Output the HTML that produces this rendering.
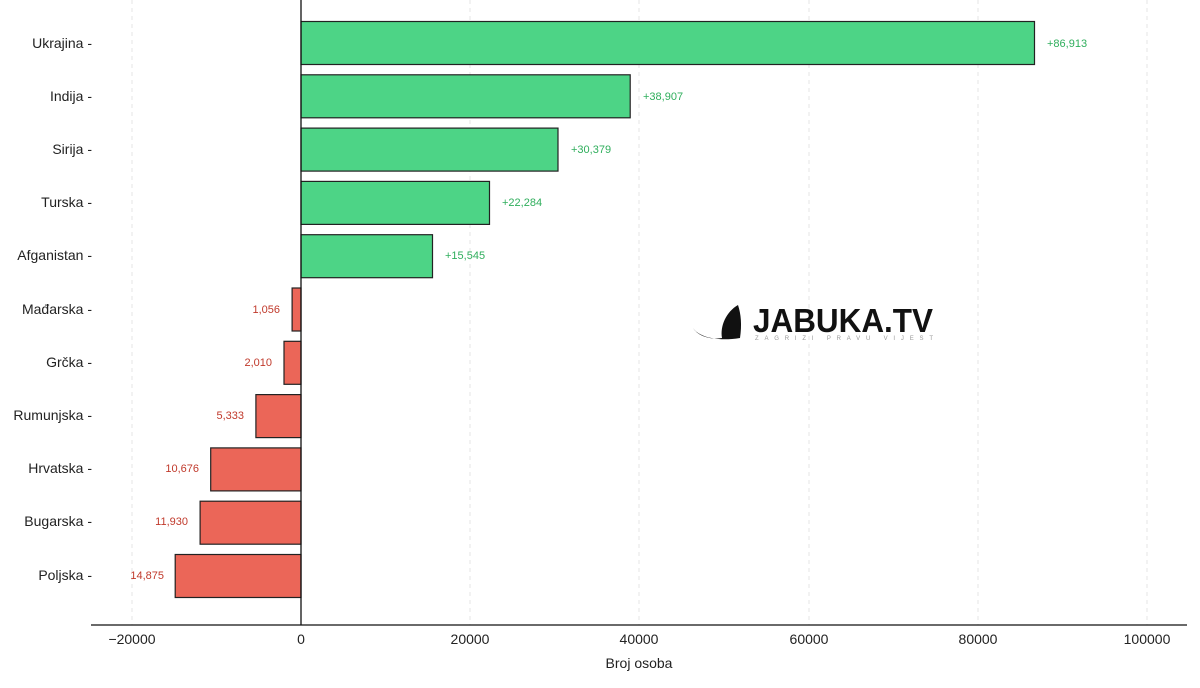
<!DOCTYPE html>
<html><head><meta charset="utf-8"><style>body{margin:0;background:#fff}svg{display:block;font-family:"Liberation Sans",sans-serif}</style></head><body>
<svg width="1200" height="688" viewBox="0 0 1200 688">
<g stroke="#e6e6e6" stroke-dasharray="4,4" stroke-width="1">
<line x1="132" y1="0" x2="132" y2="625"/><line x1="470" y1="0" x2="470" y2="625"/><line x1="639" y1="0" x2="639" y2="625"/><line x1="809" y1="0" x2="809" y2="625"/><line x1="978" y1="0" x2="978" y2="625"/><line x1="1147" y1="0" x2="1147" y2="625"/>
</g>
<g stroke="#222" stroke-width="1.2" fill="#4dd486">
<rect x="301" y="21.5" width="733.5" height="43"/>
<rect x="301" y="74.8" width="329.2" height="43"/>
<rect x="301" y="128.1" width="257" height="43"/>
<rect x="301" y="181.4" width="188.5" height="43"/>
<rect x="301" y="234.7" width="131.5" height="43"/>
</g>
<g stroke="#222" stroke-width="1.2" fill="#eb6658">
<rect x="292.1" y="288" width="8.9" height="43"/>
<rect x="284" y="341.3" width="17" height="43"/>
<rect x="255.9" y="394.6" width="45.1" height="43"/>
<rect x="210.7" y="447.9" width="90.3" height="43"/>
<rect x="200.1" y="501.2" width="100.9" height="43"/>
<rect x="175.2" y="554.5" width="125.8" height="43"/>
</g>
<line x1="301" y1="0" x2="301" y2="625" stroke="#111" stroke-width="1.3"/>
<line x1="91" y1="625" x2="1187" y2="625" stroke="#111" stroke-width="1.2"/>
<g font-size="11" fill="#2fae5c">
<text x="1047" y="47">+86,913</text><text x="643" y="100">+38,907</text><text x="571" y="153">+30,379</text><text x="502" y="206">+22,284</text><text x="445" y="259">+15,545</text>
</g>
<g font-size="11" fill="#c0392b" text-anchor="end">
<text x="280" y="313">1,056</text><text x="272" y="366">2,010</text><text x="244" y="419">5,333</text><text x="199" y="472">10,676</text><text x="188" y="525">11,930</text><text x="164" y="579">14,875</text>
</g>
<g font-size="14" fill="#222" text-anchor="end">
<text x="92" y="48">Ukrajina -</text><text x="92" y="101">Indija -</text><text x="92" y="154">Sirija -</text><text x="92" y="207">Turska -</text><text x="92" y="260">Afganistan -</text><text x="92" y="314">Mađarska -</text><text x="92" y="367">Grčka -</text><text x="92" y="420">Rumunjska -</text><text x="92" y="473">Hrvatska -</text><text x="92" y="526">Bugarska -</text><text x="92" y="580">Poljska -</text>
</g>
<g font-size="14" fill="#222" text-anchor="middle">
<text x="132" y="644">−20000</text><text x="301" y="644">0</text><text x="470" y="644">20000</text><text x="639" y="644">40000</text><text x="809" y="644">60000</text><text x="978" y="644">80000</text><text x="1147" y="644">100000</text>
<text x="639" y="668">Broj osoba</text>
</g>
<g>
<path d="M738 305 C726 312 720 326 722 338 C710 340 698 336 693 328 C698 336 715 342 740 338 C742 325 741 314 738 305 Z" fill="#111"/>
<text x="753" y="332" font-size="33" font-weight="bold" fill="#111" textLength="180" lengthAdjust="spacingAndGlyphs">JABUKA.TV</text>
<text x="755" y="340" font-size="6" fill="#999" textLength="178" lengthAdjust="spacing">ZAGRIZI PRAVU VIJEST</text>
</g>
</svg>
</body></html>
